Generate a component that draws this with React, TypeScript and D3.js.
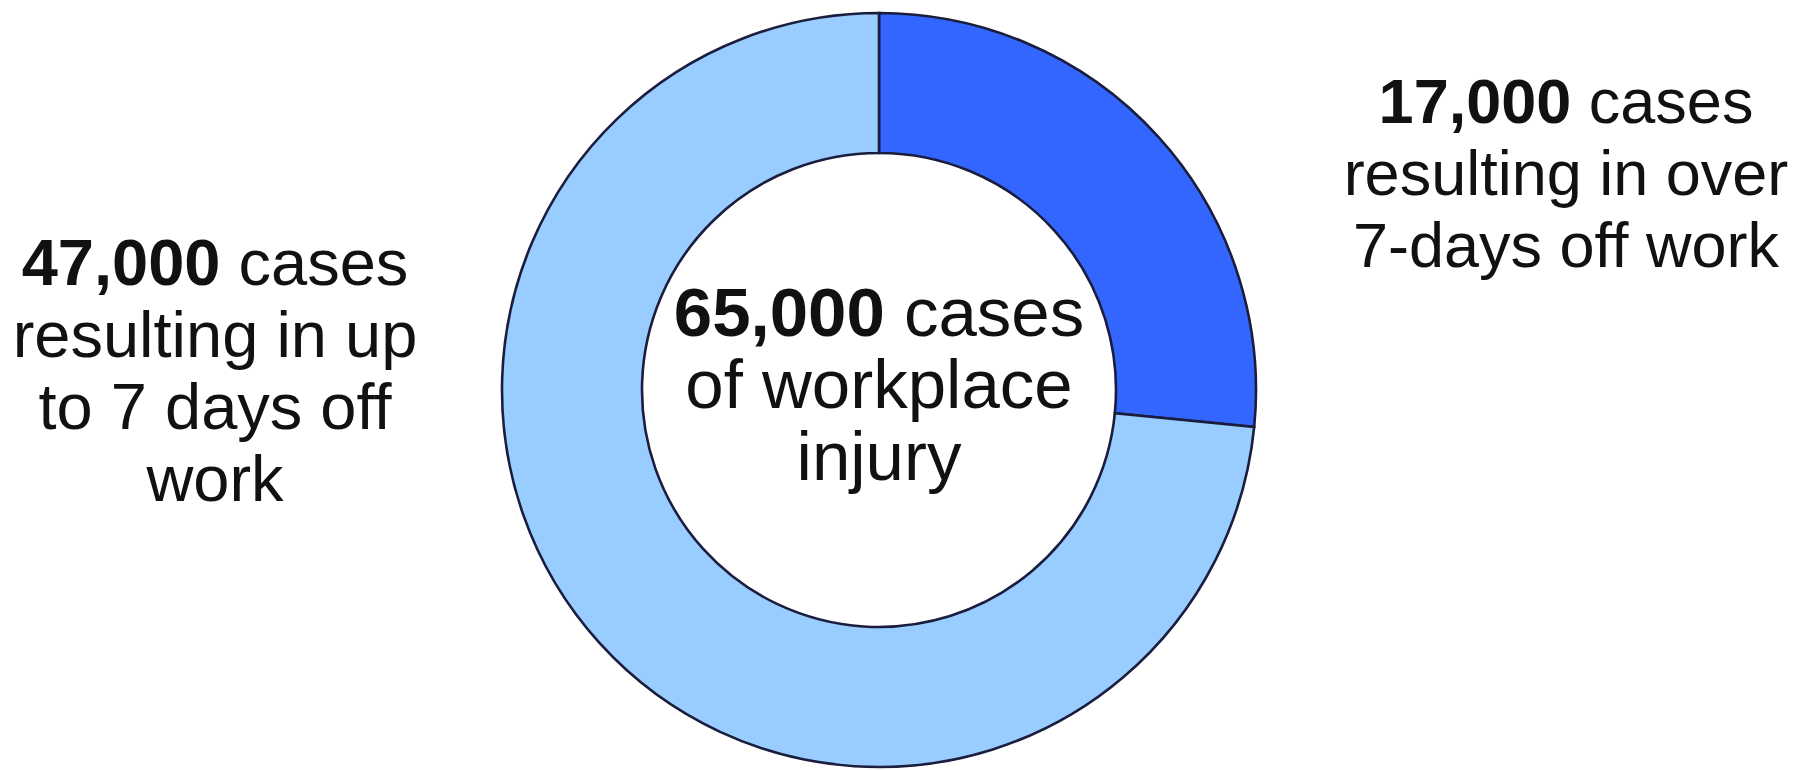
import React from "react";
import * as d3 from "d3";

const categories = ["over 7 days off work", "up to 7 days off work"];
const values = [17000, 47000];
const colors = ["#3366ff", "#99ccff"];

const centerLines = [
  { bold: "65,000", rest: " cases" },
  { bold: "", rest: "of workplace" },
  { bold: "", rest: "injury" },
];
const leftLines = [
  { bold: "47,000", rest: " cases" },
  { bold: "", rest: "resulting in up" },
  { bold: "", rest: "to 7 days off" },
  { bold: "", rest: "work" },
];
const rightLines = [
  { bold: "17,000", rest: " cases" },
  { bold: "", rest: "resulting in over" },
  { bold: "", rest: "7-days off work" },
];

const W = 1801;
const H = 770;
const cx = 879;
const cy = 390;
const rOuter = 377;
const rInner = 237;
const FONT = "'Liberation Sans', Arial, sans-serif";
const LH = 72;

type Line = { bold: string; rest: string };

function Label({ lines, x, y0, fs }: { lines: Line[]; x: number; y0: number; fs: number }) {
  return (
    <text x={x} textAnchor="middle" fontFamily={FONT} fontSize={fs} fill="#111">
      {lines.map((l, i) => (
        <tspan key={i} x={x} y={y0 + i * LH}>
          {l.bold && <tspan fontWeight="bold">{l.bold}</tspan>}
          <tspan>{l.rest}</tspan>
        </tspan>
      ))}
    </text>
  );
}

export default function App() {
  const pie = d3
    .pie<number>()
    .sort(null)
    .startAngle(0)
    .endAngle(2 * Math.PI)
    .value((d) => d);
  const arcs = pie(values);
  const arc = d3.arc<d3.PieArcDatum<number>>().innerRadius(rInner).outerRadius(rOuter);

  return (
    <svg
      width={W}
      height={H}
      style={{ position: "absolute", left: 0, top: 0, background: "#fff" }}
    >
      <rect width={W} height={H} fill="#fff" />
      <g transform={`translate(${cx},${cy})`}>
        {arcs.map((a, i) => (
          <path
            key={categories[i]}
            d={arc(a) || ""}
            fill={colors[i]}
            stroke="#1a1d3d"
            strokeWidth={2.6}
          />
        ))}
      </g>
      <Label lines={centerLines} x={879} y0={336} fs={69} />
      <Label lines={leftLines} x={215} y0={285} fs={65} />
      <Label lines={rightLines} x={1566} y0={123} fs={63} />
    </svg>
  );
}
